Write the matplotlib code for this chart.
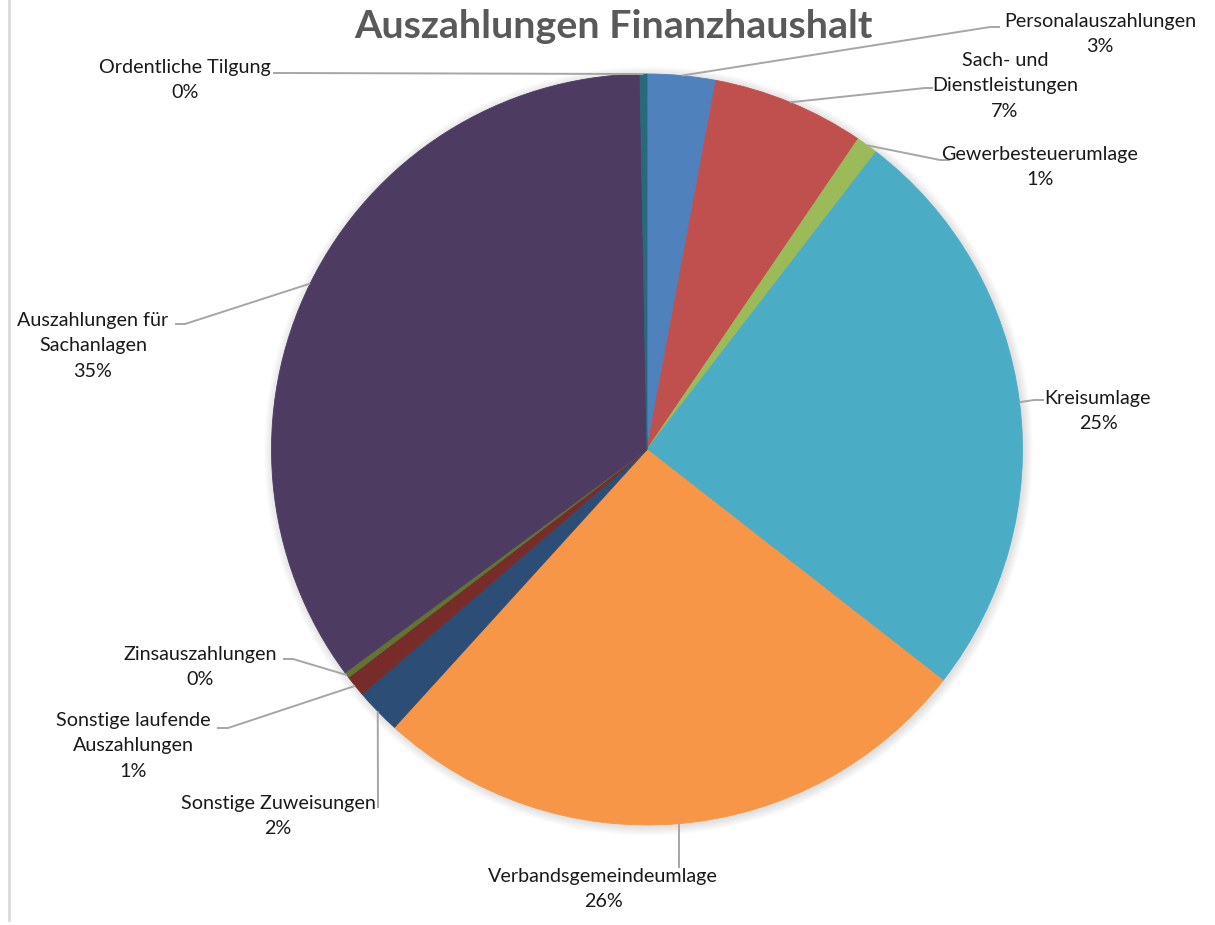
import matplotlib
matplotlib.use('Agg')
import matplotlib.pyplot as plt
from matplotlib.patches import Circle
import numpy as np

# ---- data ----
categories = ["Personalauszahlungen", "Sach- und Dienstleistungen", "Gewerbesteuerumlage",
              "Kreisumlage", "Verbandsgemeindeumlage", "Sonstige Zuweisungen",
              "Sonstige laufende Auszahlungen", "Zinsauszahlungen",
              "Auszahlungen für Sachanlagen", "Ordentliche Tilgung"]
shares = [2.94, 6.56, 0.94, 25.1, 26.2, 1.97, 0.91, 0.25, 34.83, 0.30]
wrapped_names = ["Personalauszahlungen", "Sach- und\nDienstleistungen", "Gewerbesteuerumlage",
                 "Kreisumlage", "Verbandsgemeindeumlage", "Sonstige Zuweisungen",
                 "Sonstige laufende\nAuszahlungen", "Zinsauszahlungen",
                 "Auszahlungen für\nSachanlagen", "Ordentliche Tilgung"]
colors = ["#4F81BD", "#C0504D", "#9BBB59", "#4BACC6", "#F79646",
          "#2C4D75", "#772C2A", "#5F7530", "#4D3B62", "#276A7C"]
title = "Auszahlungen Finanzhaushalt"

# ---- layout (pixel coordinates, y from top) ----
W, H = 1215, 925
cx, cy, R = 647, 449.5, 375.5
# text center, elbow, end of leader
label_pos = [(1100, 34), (1005, 86), (1040, 167), (1098, 411), (603, 889),
             (278, 816), (133, 746), (200, 667), (93, 346), (185, 80)]
elbows = [(990, 27), (925, 88), (940, 160), (1034, 400), (679, 868),
          (378, 808), (228, 728), (293, 659), (185, 324), (283, 73)]
ends = [(1000, 27), (933, 88), (950, 160), (1044, 400), (679, 868),
        (378, 808), (217, 728), (283, 659), (175, 324), (273, 73)]

def Y(y):
    return H - y

fig = plt.figure(figsize=(W / 100, H / 100), dpi=100)
ax = fig.add_axes([0, 0, 1, 1])

# soft shadow
for i in range(10, 0, -1):
    ax.add_patch(Circle((cx + 1.5, Y(cy) - 1.5), R + i * 0.9, color='black',
                        alpha=0.012, lw=0, zorder=0))

wedges, _ = ax.pie(shares, colors=colors, startangle=90, counterclock=False,
                   center=(cx, Y(cy)), radius=R,
                   wedgeprops=dict(linewidth=0.6, zorder=2))
for w, c in zip(wedges, colors):
    w.set_edgecolor(c)

ax.set_xlim(0, W)
ax.set_ylim(0, H)
ax.set_aspect('equal')
ax.axis('off')

total = sum(shares)
cum = 0.0
for i, s in enumerate(shares):
    mid = (cum + s / 2) / total * 360.0
    cum += s
    ang = np.deg2rad(mid)
    axp = cx + R * np.sin(ang)
    ayp = cy - R * np.cos(ang)
    xs = [axp, elbows[i][0], ends[i][0]]
    ys = [Y(ayp), Y(elbows[i][1]), Y(ends[i][1])]
    ax.plot(xs, ys, color='#A6A6A6', lw=1.4, zorder=3, solid_capstyle='butt')
    pct = int(round(s / total * 100))
    ax.text(label_pos[i][0], Y(label_pos[i][1]), f"{wrapped_names[i]}\n{pct}%",
            ha='center', va='center', fontsize=14.2, family=['Lato', 'DejaVu Sans'],
            color='#1a1a1a', linespacing=1.6, zorder=4)

ax.text(613, Y(26), title, ha='center', va='center', fontsize=28.4, fontweight='bold',
        family=['Lato', 'DejaVu Sans'], color='#595959')

# left border line
ax.plot([9, 9], [Y(0), Y(920)], color='#D9D9D9', lw=2)

fig.savefig('out.png', dpi=100)
